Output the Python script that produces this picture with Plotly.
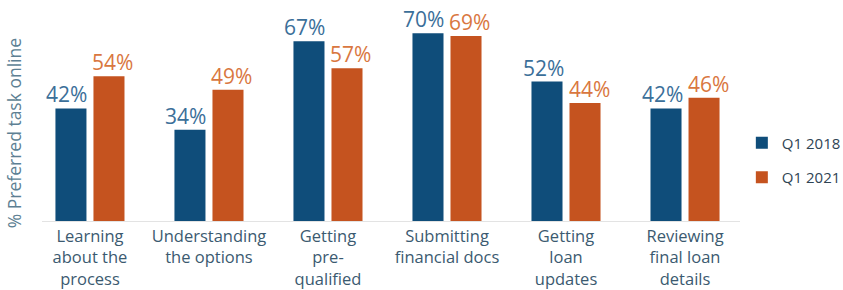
import plotly.graph_objects as go

categories = ["Learning<br>about the<br>process", "Understanding<br>the options",
              "Getting<br>pre-<br>qualified", "Submitting<br>financial docs",
              "Getting<br>loan<br>updates", "Reviewing<br>final loan<br>details"]
q1_2018 = [42, 34, 67, 70, 52, 42]
q1_2021 = [54, 49, 57, 69, 44, 46]
series_names = ["Q1 2018", "Q1 2021"]

FONT = "Open Sans"
BAR_COLORS = ["#0f4d7a", "#c5531f"]
LABEL_COLORS = ["#3b6f99", "#d9773f"]
LABEL_SHIFT = [-23, 23]

fig = go.Figure()
for k, (name, vals) in enumerate([(series_names[0], q1_2018), (series_names[1], q1_2021)]):
    fig.add_trace(go.Bar(
        x=categories, y=vals, name=name, legendgroup=name,
        marker=dict(color=BAR_COLORS[k], line=dict(width=0)),
        hoverinfo="skip",
    ))
    for c, v in zip(categories, vals):
        fig.add_annotation(x=c, y=v, xref="x", yref="y", text=f"{v}%",
                           showarrow=False, xanchor="center", yanchor="bottom",
                           xshift=LABEL_SHIFT[k], yshift=-2,
                           font=dict(family=FONT, size=21, color=LABEL_COLORS[k]))

fig.update_layout(
    width=843, height=290,
    margin=dict(l=42, r=103, t=10, b=69),
    plot_bgcolor="white", paper_bgcolor="white",
    barmode="group", bargap=0.361, bargroupgap=0.184,
    font=dict(family=FONT),
    showlegend=True,
    legend=dict(xref="container", yref="container", x=0.880, xanchor="left",
                y=0.448, yanchor="middle", itemsizing="constant",
                font=dict(family=FONT, size=15, color="#2f4454"),
                tracegroupgap=12, bgcolor="rgba(0,0,0,0)"),
    xaxis=dict(range=[-0.403, 5.462], showline=True, linecolor="#e3e3e3", linewidth=1,
               ticks="", showgrid=False, tickangle=0, automargin=False,
               tickfont=dict(family=FONT, size=16.5, color="#3b5a70")),
    yaxis=dict(range=[0, 78.7], showticklabels=False, showgrid=False, zeroline=False,
               showline=False, ticks="", automargin=False),
)
fig.add_annotation(text="% Preferred task online", textangle=-90,
                   xref="paper", yref="paper", x=-0.039, y=0.415,
                   xanchor="center", yanchor="middle", showarrow=False,
                   font=dict(family=FONT, size=17.5, color="#5d7f93"))

fig.write_html("out.html", config={"displayModeBar": False},
               post_script="document.body.style.margin='0';")
